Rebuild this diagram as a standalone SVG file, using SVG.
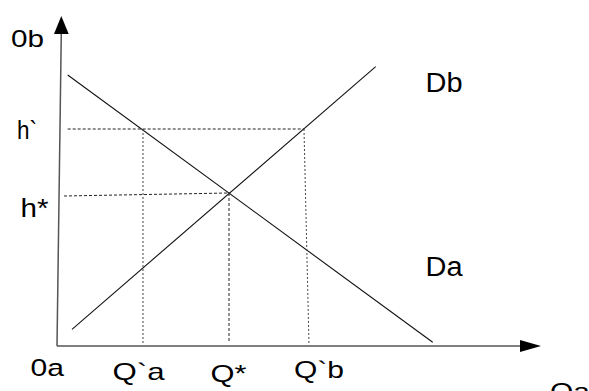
<svg xmlns="http://www.w3.org/2000/svg" width="589" height="391" viewBox="0 0 589 391">
<style>
text { font-family: "Liberation Sans", Arial, sans-serif; fill: #000; }
.axis { stroke: #555; stroke-width: 1.5; fill: none; }
.curve { stroke: #111; stroke-width: 1.1; fill: none; }
.dash { stroke: #222; stroke-width: 1; stroke-dasharray: 3 2; fill: none; }
.dot { stroke: #444; stroke-width: 1; stroke-dasharray: 2 2; fill: none; }
</style>
<rect width="589" height="391" fill="#fff"/>
<g id="axes">
  <line class="axis" x1="57" y1="346" x2="61.3" y2="32"/>
  <polygon points="61.3,16 54,34 68.7,34" fill="#000"/>
  <line class="axis" x1="57" y1="346" x2="522" y2="346"/>
  <polygon points="541,346 520,340 520,352" fill="#000"/>
</g>
<g id="curves">
  <line id="Da-line" class="curve" x1="67.7" y1="75" x2="432.7" y2="342.3"/>
  <line id="Db-line" class="curve" x1="72" y1="329.3" x2="375.7" y2="66.7"/>
</g>
<g id="guides">
  <line class="dash" x1="67.7" y1="129" x2="304" y2="129"/>
  <line class="dash" x1="64" y1="196" x2="229.3" y2="193"/>
  <line class="dot" x1="143" y1="129" x2="143" y2="345"/>
  <line class="dash" x1="229" y1="193" x2="229" y2="342"/>
  <line class="dot" x1="304" y1="129" x2="309" y2="345"/>
</g>
<g id="labels">
  <text x="11" y="46.5" font-size="24" textLength="33" lengthAdjust="spacingAndGlyphs">0b</text>
  <text x="17" y="139" font-size="25" textLength="20" lengthAdjust="spacingAndGlyphs">h`</text>
  <text x="20.5" y="217" font-size="25" textLength="28" lengthAdjust="spacingAndGlyphs">h*</text>
  <text x="425.5" y="92" font-size="27" textLength="37" lengthAdjust="spacingAndGlyphs">Db</text>
  <text x="425.5" y="276" font-size="27" textLength="37" lengthAdjust="spacingAndGlyphs">Da</text>
  <text x="30.5" y="376" font-size="24.5" textLength="33.5" lengthAdjust="spacingAndGlyphs">0a</text>
  <text x="112.5" y="380" font-size="24" textLength="52" lengthAdjust="spacingAndGlyphs">Q`a</text>
  <text x="210.5" y="382" font-size="24" textLength="36" lengthAdjust="spacingAndGlyphs">Q*</text>
  <text x="294" y="378" font-size="24" textLength="50" lengthAdjust="spacingAndGlyphs">Q`b</text>
  <text x="550" y="400" font-size="24" textLength="40" lengthAdjust="spacingAndGlyphs">Qa</text>
</g>
</svg>
